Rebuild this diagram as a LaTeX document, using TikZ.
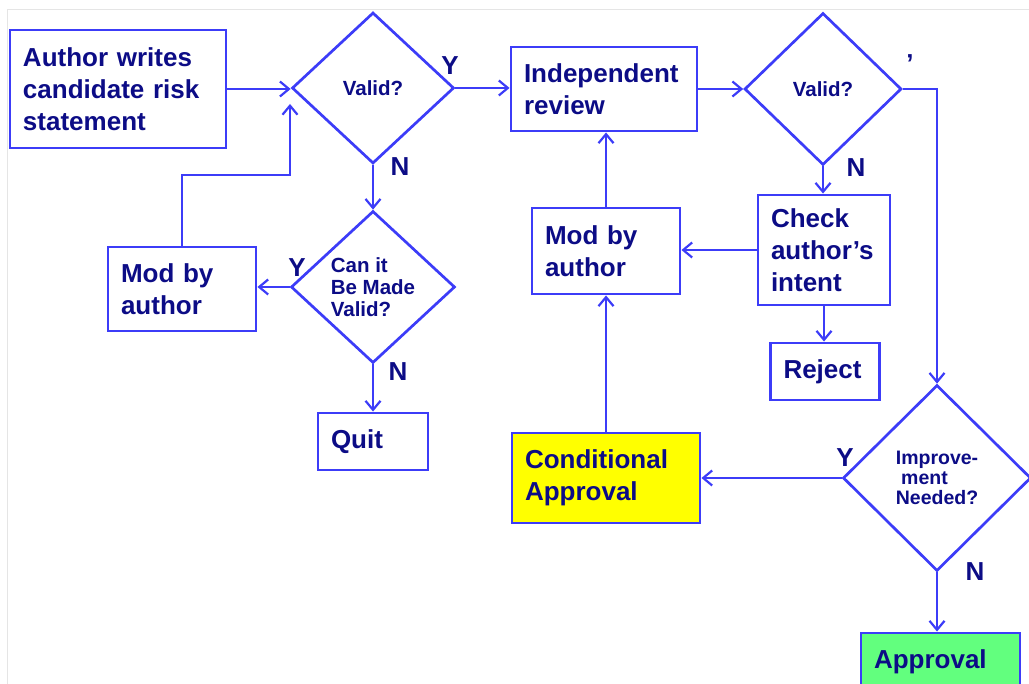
\documentclass[tikz,border=0pt]{standalone}
\usepackage{fontspec}
\setmainfont{Liberation Sans}
\usepackage{xcolor}
\usepackage{tikz}
\usetikzlibrary{arrows.meta,shapes.geometric}
\definecolor{lineblue}{HTML}{3C3CF8}
\definecolor{navy}{HTML}{0C0C86}
\definecolor{condyel}{HTML}{FFFF00}
\definecolor{apprgreen}{HTML}{62FF7E}
\tikzset{
  ar/.style={-{Straight Barb[length=9pt,width=15pt,line width=2.2pt]},line width=2.6pt,lineblue},
  box/.style={draw=lineblue,line width=2.9pt,text=navy,align=left,inner xsep=13pt,inner ysep=0pt,
    font=\bfseries\fontsize{26}{32}\selectfont},
  dec/.style={draw=lineblue,line width=2.7pt,diamond,inner sep=0pt,text=navy,align=left,
    font=\bfseries\fontsize{20.5}{22}\selectfont},
  yn/.style={text=navy,font=\bfseries\fontsize{26}{26}\selectfont,inner sep=0pt}
}
\begin{document}
\begin{tikzpicture}[x=1pt,y=-1pt]
\useasboundingbox (0,0) rectangle (1029,684);
\clip (0,0) rectangle (1029,684);
\draw[gray!20,line width=1pt] (7,684) |- (1029,10);
\node[box,text width=190pt,minimum height=118pt] (author) at (118,89) {Author writes\\candidate risk\\statement};
\node[dec,minimum width=162pt,minimum height=151pt] (valid1) at (373,88) {Valid?};
\node[dec,minimum width=164pt,minimum height=152pt] (canit) at (373,287) {Can it\\Be Made\\Valid?};
\node[box,text width=122pt,minimum height=84pt] (mod1) at (182,289) {Mod by\\author};
\node[box,text width=84pt,minimum height=57pt] (quit) at (373,441.5) {Quit};
\node[box,text width=160pt,minimum height=84pt] (review) at (604,89) {Independent\\review};
\node[dec,minimum width=157pt,minimum height=152pt] (valid2) at (823,89) {Valid?};
\node[box,text width=106pt,minimum height=110pt] (check) at (824,250) {Check\\author’s\\intent};
\node[box,text width=122pt,minimum height=86pt] (mod2) at (606,251) {Mod by\\author};
\node[box,text width=83pt,minimum height=57pt] (reject) at (825,371.5) {Reject};
\node[dec,minimum width=188pt,minimum height=186pt,font=\bfseries\fontsize{19.5}{20}\selectfont] (improve) at (937,478) {Improve-\\\ ment\\Needed?};
\node[box,fill=condyel,text width=162pt,minimum height=90pt] (condapp) at (606,478) {Conditional\\Approval};
\node[box,fill=apprgreen,text width=133pt,minimum height=57pt] (approval) at (940.5,661.5) {Approval};
\coordinate (fbturn) at (290,175);
\coordinate (fbtip) at (290,104);
\draw[ar] (author.east) -- (author.east -| valid1.west);
\draw[ar] (valid1.east) -- (valid1.east -| review.west);
\draw[ar] (valid1.south) -- (canit.north);
\draw[ar] (canit.west) -- (canit.west -| mod1.east);
\draw[ar] (canit.south) -- (quit.north);
\draw[ar] (mod1.north) |- (fbturn) -- (fbtip);
\draw[ar] (review.east) -- (valid2.west);
\draw[ar] (valid2.south) -- (valid2.south |- check.north);
\draw[ar] (check.west) -- (check.west -| mod2.east);
\draw[ar] (check.south) -- (check.south |- reject.north);
\draw[ar] (mod2.north) -- (mod2.north |- review.south);
\draw[ar] (condapp.north) -- (mod2.south);
\draw[ar] (valid2.east) -| (improve.north);
\draw[ar] (improve.west) -- (condapp.east);
\draw[ar] (improve.south) -- (improve.south |- approval.north);
\node[yn] (y1) at (450,66) {Y};
\node[yn] (n1) at (400,167) {N};
\node[yn] (y2) at (297,268) {Y};
\node[yn] (n2) at (398,372) {N};
\node[yn] (n3) at (856,168) {N};
\node[yn] (tick) at (910,64) {’};
\node[yn] (y3) at (845,458) {Y};
\node[yn] (n4) at (975,572) {N};
\end{tikzpicture}
\end{document}
